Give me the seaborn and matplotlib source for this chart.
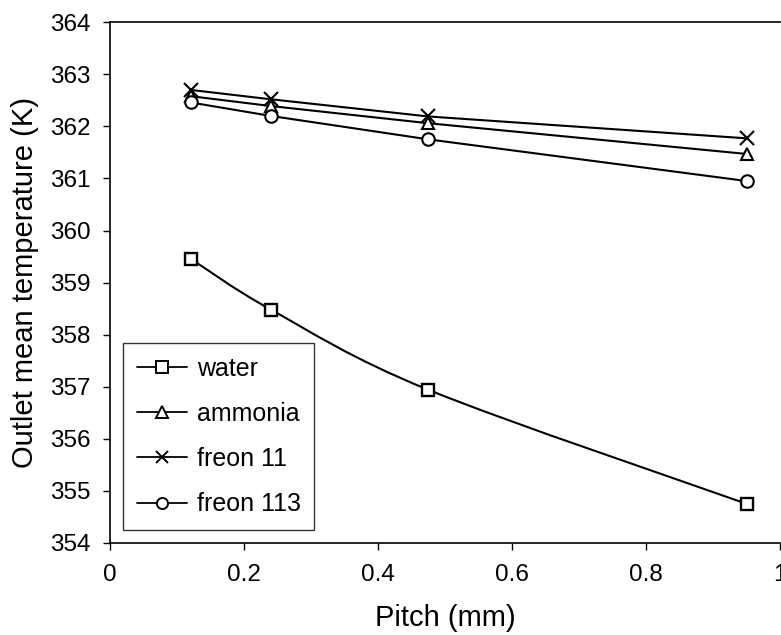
import numpy as np
import pandas as pd
import matplotlib
matplotlib.use("Agg")
import matplotlib.pyplot as plt
from matplotlib.path import Path
from matplotlib.patches import PathPatch
from matplotlib.lines import Line2D
import seaborn as sns

pitch = [0.12, 0.24, 0.475, 0.95]
water = [359.46, 358.48, 356.94, 354.75]
ammonia = [362.58, 362.39, 362.06, 361.47]
freon11 = [362.70, 362.52, 362.19, 361.77]
freon113 = [362.46, 362.20, 361.75, 360.95]

series_names = ["water", "ammonia", "freon 11", "freon 113"]
markers = {"water": "s", "ammonia": "^", "freon 11": "x", "freon 113": "o"}

sns.set_theme(style="white")
plt.rcParams["font.family"] = ["Liberation Sans", "DejaVu Sans"]
plt.rcParams["text.color"] = "black"

fig = plt.figure(figsize=(7.81, 6.35), dpi=100)
ax = fig.add_axes([0.141, 0.145, 0.858, 0.82])

df = pd.DataFrame({
    "pitch": pitch * 4,
    "temp": water + ammonia + freon11 + freon113,
    "fluid": sum([[n] * len(pitch) for n in series_names], []),
})

# straight series
for name in ["ammonia", "freon 11", "freon 113"]:
    sub = df[df.fluid == name]
    sns.lineplot(data=sub, x="pitch", y="temp", ax=ax, color="black", lw=1.5,
                 marker=markers[name], markersize=9 if name != "freon 11" else 10,
                 markerfacecolor="white", markeredgecolor="black",
                 markeredgewidth=1.5, legend=False)

# smoothed water series (Catmull-Rom bezier through points)
sub = df[df.fluid == "water"]
pts = np.column_stack([sub.pitch.values, sub.temp.values])
ext = np.vstack([pts[0], pts, pts[-1]])
verts = [tuple(pts[0])]
codes = [Path.MOVETO]
for i in range(len(pts) - 1):
    p0, p1, p2, p3 = ext[i], ext[i + 1], ext[i + 2], ext[i + 3]
    c1 = p1 + (p2 - p0) / 6.0
    c2 = p2 - (p3 - p1) / 6.0
    verts += [tuple(c1), tuple(c2), tuple(p2)]
    codes += [Path.CURVE4] * 3
ax.add_patch(PathPatch(Path(verts, codes), facecolor="none", edgecolor="black",
                       lw=1.5, zorder=2))
sns.lineplot(data=sub, x="pitch", y="temp", ax=ax, color="black", lw=0,
             marker="s", markersize=9, markerfacecolor="white",
             markeredgecolor="black", markeredgewidth=1.7, legend=False, zorder=3)

ax.set_xlim(0, 1)
ax.set_ylim(354, 364)
ax.set_xticks([0, 0.2, 0.4, 0.6, 0.8, 1])
ax.set_xticklabels(["0", "0.2", "0.4", "0.6", "0.8", "1"])
ax.set_yticks(range(354, 365))
ax.tick_params(axis="both", labelsize=17.5, direction="out", length=5, width=1,
               color="black", labelcolor="black", bottom=True, left=True)
ax.tick_params(axis="x", pad=10)
ax.tick_params(axis="y", pad=9)
ax.set_xlabel("Pitch (mm)", fontsize=21, color="black", labelpad=13)
ax.set_ylabel("Outlet mean temperature (K)", fontsize=21, color="black", labelpad=8)
for s in ["left", "bottom", "top"]:
    ax.spines[s].set_visible(True)
    ax.spines[s].set_color("black")
    ax.spines[s].set_linewidth(1.2)
ax.spines["right"].set_visible(False)

handles = [Line2D([0], [0], color="black", lw=1.3, marker=markers[n],
                  markersize=8, markerfacecolor="white", markeredgecolor="black",
                  markeredgewidth=1.4) for n in series_names]
leg = ax.legend(handles, series_names, loc="upper left",
                bbox_to_anchor=(0.019, 0.384), fontsize=18, frameon=True,
                fancybox=False, edgecolor="black", labelspacing=0.85,
                handlelength=2.0, handletextpad=0.4, borderpad=0.55,
                borderaxespad=0, labelcolor="black")
leg.get_frame().set_linewidth(1.0)

fig.savefig("out.png", dpi=100)
